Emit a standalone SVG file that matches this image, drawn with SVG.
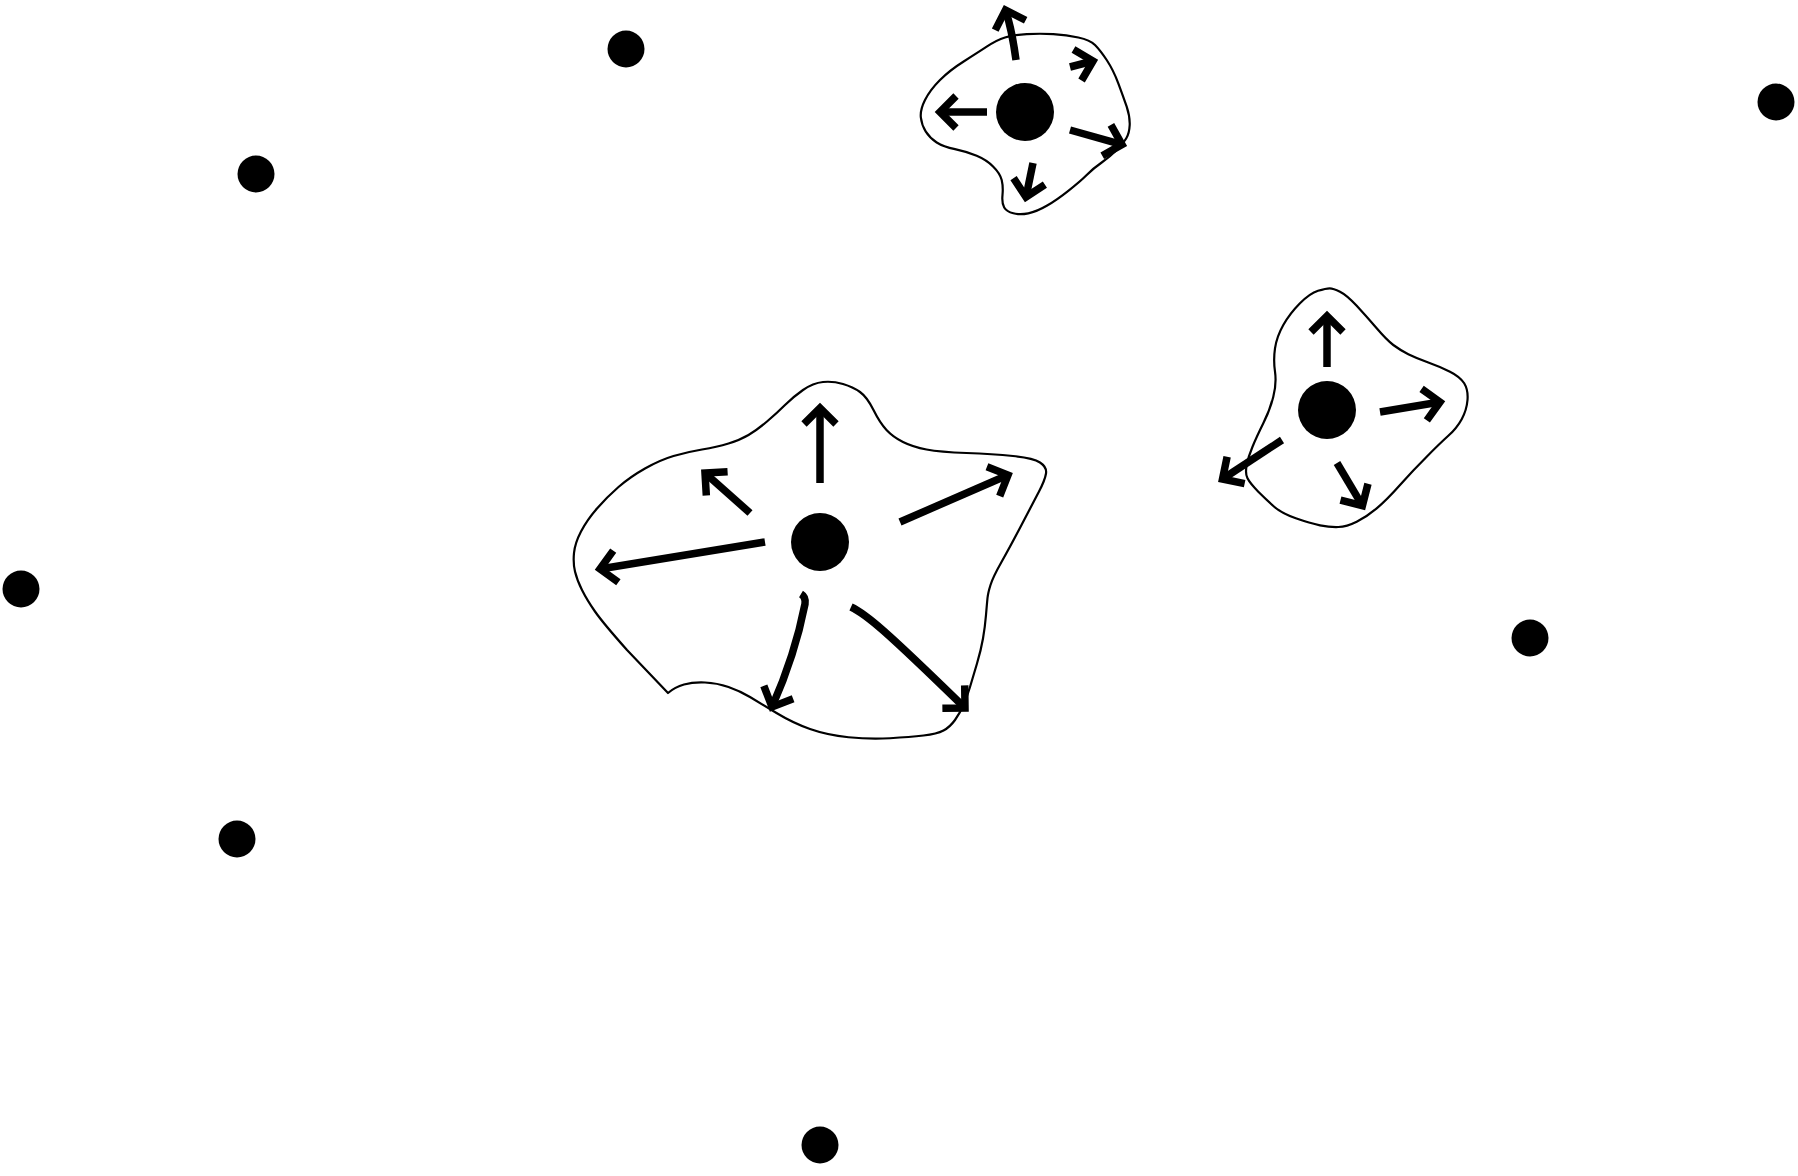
<svg xmlns="http://www.w3.org/2000/svg" width="1798" height="1176" viewBox="0 0 1798 1176">
<style>
.dot{fill:#000}
.blob{fill:none;stroke:#000;stroke-width:2.2;stroke-linejoin:round}
.arrow{fill:none;stroke:#000;stroke-width:7.5;stroke-linecap:butt;marker-end:url(#head)}
</style>
<defs>
<marker id="head" markerUnits="userSpaceOnUse" markerWidth="60" markerHeight="60" viewBox="-30 -30 60 60" refX="0" refY="0" orient="auto" overflow="visible">
<path d="M-16,-16 L0,0 L-16,16" fill="none" stroke="#000" stroke-width="7.5" stroke-linejoin="miter" stroke-miterlimit="10"/>
</marker>
</defs>
<rect width="1798" height="1176" fill="#fff"/>
<g id="blob-main">
<path class="blob" d="M668,693 L627,650 Q603,623 595,611.5 Q587,600 582,590 Q577,580 575,571.5 Q573,563 574,553 Q575,543 581,531.5 Q587,520 597,508.5 Q607,497 618.5,487 Q630,477 645,468.5 Q660,460 673.5,456 Q687,452 702,449.5 Q717,447 728.5,443.5 Q740,440 748.5,435 Q757,430 767,421.5 Q777,413 785,405 Q793,397 803,390 Q813,383 823,382 Q833,381 843,384 Q853,387 860,392 Q867,397 873.5,410 Q880,423 886.5,430 Q893,437 903,442 Q913,447 926.5,449.5 Q940,452 966.5,453 Q993,454 1013,456 Q1033,458 1040,462.5 Q1047,467 1046,473.5 Q1045,480 1039,491.5 Q1033,503 1021.5,525 Q1010,547 1001.5,562 Q993,577 990.5,585 Q988,593 987.5,598 Q987,603 986,615 Q985,627 983,638.5 Q981,650 977,663.5 Q973,677 970,687 Q967,697 963.5,705 Q960,713 955,720 Q950,727 943.5,730.5 Q937,734 923.5,735.5 Q910,737 890,738.25 Q870,739.5 848.5,737.25 Q827,735 810,729 Q793,723 776.5,713 Q760,703 750,697 Q740,691 728.5,687 Q717,683 705,682.5 Q693,682 684,684.5 Q675,687 668,693 Z"/>
</g>
<g id="blob-top">
<path class="blob" d="M920.85,117.5 Q920,110 925,100 Q930,90 940,80 Q950,70 963.3,61.7 Q976.7,53.3 986.7,46.7 Q996.7,40 1005,37.5 Q1013.3,35 1026.7,34.2 Q1040,33.3 1053.3,34.2 Q1066.7,35 1078.3,37.5 Q1090,40 1095,45 Q1100,50 1106.7,60 Q1113.3,70 1118.3,83.3 Q1123.3,96.7 1126.7,106.7 Q1130,116.7 1129.7,125 Q1129.3,133.3 1126.3,138.3 Q1123.3,143.3 1116.7,150 Q1110,156.7 1101.7,162.5 Q1093.3,168.3 1086.7,175 Q1080,181.7 1068.3,190.8 Q1056.7,200 1046.7,205.8 Q1036.7,211.7 1028.3,213.3 Q1020,215 1013.3,213.3 Q1006.7,211.7 1004.2,207.5 Q1001.7,203.3 1002.5,195 Q1003.3,186.7 1001.7,180 Q1000,173.3 993.3,166.7 Q986.7,160 976.7,155.8 Q966.7,151.7 955,149.2 Q943.3,146.7 936.7,142.5 Q930,138.3 925.8,131.7 Q921.7,125 920.85,117.5 Z"/>
</g>
<g id="blob-right">
<path class="blob" d="M1329.7,288.3 Q1326,288.3 1318,290.8 Q1310,293.3 1300,303.3 Q1290,313.3 1283.3,325 Q1276.7,336.7 1275,348.3 Q1273.3,360 1275,371.7 Q1276.7,383.3 1273.3,396.7 Q1270,410 1263.3,423.3 Q1256.7,436.7 1252.5,446.7 Q1248.3,456.7 1246.7,465 Q1245,473.3 1247.5,478.3 Q1250,483.3 1258.3,491.7 Q1266.7,500 1274.2,506.7 Q1281.7,513.3 1295.8,518.3 Q1310,523.3 1320,525.3 Q1330,527.3 1338.3,527 Q1346.7,526.7 1356.7,521.7 Q1366.7,516.7 1376.7,508.3 Q1386.7,500 1400,485 Q1413.3,470 1426.7,456.7 Q1440,443.3 1448.3,435.8 Q1456.7,428.3 1461.7,419.2 Q1466.7,410 1467.5,400 Q1468.3,390 1464.2,383.3 Q1460,376.7 1450,371.7 Q1440,366.7 1428.3,362.5 Q1416.7,358.3 1408.3,354.2 Q1400,350 1393.3,345 Q1386.7,340 1376.7,328.3 Q1366.7,316.7 1356.7,305.8 Q1346.7,295 1340,291.7 Q1333.3,288.3 1329.7,288.3 Z"/>
</g>
<g id="connectors">
<path class="arrow" d="M820,483 L820,408"/>
<path class="arrow" d="M750,513 L705,473"/>
<path class="arrow" d="M765,542 L600,569"/>
<path class="arrow" d="M900,522 L1008,475"/>
<path class="arrow" d="M801,594 Q806,597 805,604 Q795,655 772,707"/>
<path class="arrow" d="M851,607 C866,614 885,630 965,708"/>
<path class="arrow" d="M1016,60 Q1012,30 1005.5,10"/>
<path class="arrow" d="M1070,67 L1093,61"/>
<path class="arrow" d="M987,112 L940,112"/>
<path class="arrow" d="M1070,130 L1122,144.6"/>
<path class="arrow" d="M1033,163 L1026,197"/>
<path class="arrow" d="M1327,367 L1327,316"/>
<path class="arrow" d="M1380,412 L1440,402"/>
<path class="arrow" d="M1282,440 L1222.5,479"/>
<path class="arrow" d="M1337,463 L1362.4,505.7"/>
</g>
<g id="node-main"><circle class="dot" cx="820" cy="542" r="29"/></g>
<g id="node-top"><circle class="dot" cx="1025" cy="112" r="29"/></g>
<g id="node-right"><circle class="dot" cx="1327" cy="410" r="29"/></g>
<g id="dot-1"><circle class="dot" cx="626" cy="49" r="18.5"/></g>
<g id="dot-2"><circle class="dot" cx="256" cy="174" r="18.5"/></g>
<g id="dot-3"><circle class="dot" cx="1776" cy="102" r="18.5"/></g>
<g id="dot-4"><circle class="dot" cx="21" cy="589" r="18.5"/></g>
<g id="dot-5"><circle class="dot" cx="237" cy="839" r="18.5"/></g>
<g id="dot-6"><circle class="dot" cx="820" cy="1145" r="18.5"/></g>
<g id="dot-7"><circle class="dot" cx="1530" cy="638" r="18.5"/></g>
</svg>
